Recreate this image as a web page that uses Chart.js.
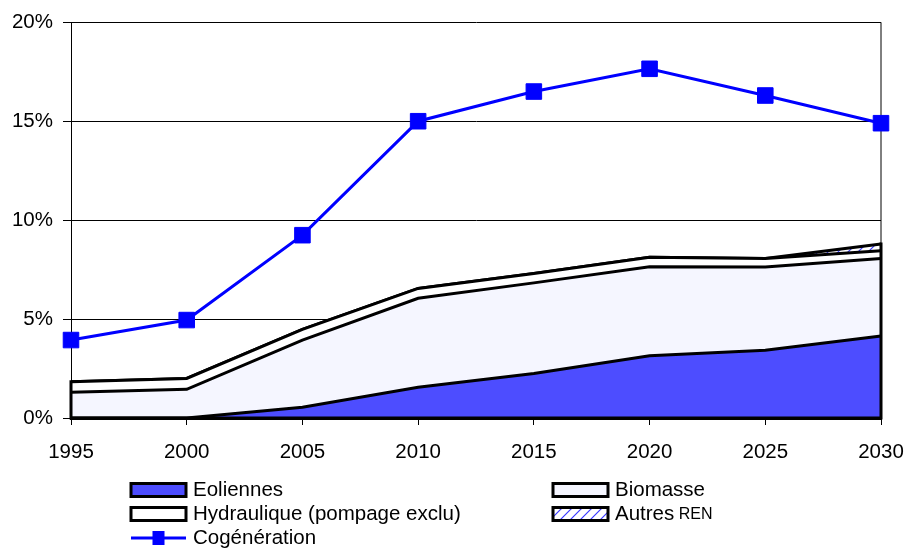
<!DOCTYPE html>
<html>
<head>
<meta charset="utf-8">
<script src="https://cdn.jsdelivr.net/npm/chart.js@4.4.1/dist/chart.umd.min.js"></script>
<style>
  html, body { margin: 0; padding: 0; background: #fff; }
</style>
</head>
<body>
<canvas id="myChart" width="906" height="548"></canvas>
<script>
// Part de la production d'électricité (%)
const years = ['1995', '2000', '2005', '2010', '2015', '2020', '2025', '2030'];
const eoliennes = [0, 0, 0.54, 1.55, 2.25, 3.15, 3.43, 4.14];
const biomasse = [1.3, 1.45, 3.4, 4.5, 4.58, 4.49, 4.2, 3.92];
const hydraulique = [0.53, 0.55, 0.54, 0.5, 0.47, 0.48, 0.43, 0.39];
const autresRen = [0, 0, 0, 0, 0, 0, 0, 0.35];
const cogeneration = [3.94, 4.95, 9.24, 15.0, 16.5, 17.65, 16.3, 14.9];
const yTicks = [0, 5, 10, 15, 20];

const BLUE = 'rgb(77, 77, 255)';
const LAVENDER = 'rgb(245, 246, 255)';
const FONT = '"Liberation Sans", Arial, sans-serif';

Chart.defaults.font.family = FONT;
Chart.defaults.color = '#000';

// white fill with thin blue diagonal stripes
function hatchPattern() {
  const n = 10;
  const c = document.createElement('canvas');
  c.width = n;
  c.height = n;
  const g = c.getContext('2d');
  g.fillStyle = '#fff';
  g.fillRect(0, 0, n, n);
  g.strokeStyle = '#3a3aff';
  g.lineWidth = 1.2;
  g.beginPath();
  g.moveTo(0, n); g.lineTo(n, 0);
  g.moveTo(-1, 1); g.lineTo(1, -1);
  g.moveTo(n - 1, n + 1); g.lineTo(n + 1, n - 1);
  g.stroke();
  return g.createPattern(c, 'repeat');
}

const area = (label, data, bg, fill) => ({
  label,
  data,
  stack: 'ren',
  fill,
  backgroundColor: bg,
  borderColor: '#000',
  borderWidth: 3,
  pointRadius: 0,
  tension: 0
});

// closes the stacked area: bottom edge and vertical sides, plus the right frame
const areaEdges = {
  id: 'areaEdges',
  beforeDatasetsDraw(chart) {
    const { ctx, chartArea: a } = chart;
    ctx.save();
    ctx.strokeStyle = '#000';
    ctx.lineWidth = 1;
    ctx.beginPath();
    ctx.moveTo(a.right, a.top);
    ctx.lineTo(a.right, a.bottom);
    ctx.stroke();
    ctx.restore();
  },
  afterDatasetsDraw(chart) {
    const { ctx, scales: { x, y } } = chart;
    const areas = chart.data.datasets.filter(d => d.fill !== false);
    const top = i => areas.reduce((s, d) => s + d.data[i], 0);
    const last = years.length - 1;
    const y0 = y.getPixelForValue(0);
    ctx.save();
    ctx.strokeStyle = '#000';
    ctx.lineWidth = 3;
    ctx.lineCap = 'square';
    ctx.beginPath();
    ctx.moveTo(x.getPixelForValue(0), y.getPixelForValue(top(0)));
    ctx.lineTo(x.getPixelForValue(0), y0);
    ctx.lineTo(x.getPixelForValue(last), y0);
    ctx.lineTo(x.getPixelForValue(last), y.getPixelForValue(top(last)));
    ctx.stroke();
    ctx.restore();
  }
};

// two-column legend under the plot
const gridLegend = {
  id: 'gridLegend',
  afterDraw(chart) {
    const { ctx } = chart;
    const cols = [131, 553];
    const rows = [490, 514, 538];
    const sw = 55, sh = 13;
    ctx.save();
    chart.data.datasets.forEach((d, i) => {
      const x0 = cols[i % 2];
      const yc = rows[Math.floor(i / 2)];
      if (d.fill !== false) {
        ctx.fillStyle = d.backgroundColor;
        ctx.fillRect(x0, yc - sh / 2, sw, sh);
        ctx.strokeStyle = '#000';
        ctx.lineWidth = 3;
        ctx.strokeRect(x0, yc - sh / 2, sw, sh);
      } else {
        ctx.strokeStyle = d.borderColor;
        ctx.lineWidth = 3;
        ctx.beginPath();
        ctx.moveTo(x0, yc);
        ctx.lineTo(x0 + sw, yc);
        ctx.stroke();
        ctx.fillStyle = d.pointBackgroundColor;
        ctx.fillRect(x0 + sw / 2 - 6, yc - 7, 12, 14);
      }
      // all-caps words are set smaller, like small capitals
      let tx = x0 + sw + 7;
      ctx.fillStyle = '#000';
      ctx.textBaseline = 'middle';
      d.label.split(' ').forEach((w, k) => {
        const caps = w.length > 1 && w === w.toUpperCase() && /[A-Z]/.test(w);
        ctx.font = (caps ? 16 : 20.5) + 'px ' + FONT;
        const word = (k ? ' ' : '') + w;
        ctx.fillText(word, tx, yc + (caps ? 1 : 0));
        tx += ctx.measureText(word).width;
      });
    });
    ctx.restore();
  }
};

const ctx = document.getElementById('myChart');
new Chart(ctx, {
  type: 'line',
  data: {
    labels: years,
    datasets: [
      area('Eoliennes', eoliennes, BLUE, 'origin'),
      area('Biomasse', biomasse, LAVENDER, '-1'),
      area('Hydraulique (pompage exclu)', hydraulique, '#fff', '-1'),
      area('Autres REN', autresRen, hatchPattern(), '-1'),
      {
        label: 'Cogénération',
        data: cogeneration,
        stack: 'cogen',
        order: -1,
        fill: false,
        borderColor: '#0000ff',
        borderWidth: 3,
        pointStyle: 'rect',
        pointRadius: 11,
        pointBackgroundColor: '#0000ff',
        pointBorderColor: '#0000ff',
        pointBorderWidth: 1,
        tension: 0
      }
    ]
  },
  options: {
    responsive: false,
    animation: false,
    layout: { padding: { top: 22, right: 25, bottom: 80, left: 0 } },
    plugins: {
      legend: { display: false },
      tooltip: { enabled: false }
    },
    scales: {
      x: {
        offset: false,
        grid: { drawOnChartArea: false, tickLength: 7, tickColor: '#000' },
        border: { color: '#000', width: 3 },
        ticks: { font: { size: 20.5 }, padding: 15, maxRotation: 0, autoSkip: false },
        afterFit: s => {
          s.height = 50;
          s.paddingLeft = 0;
          s.paddingRight = 0;
        }
      },
      y: {
        stacked: true,
        min: 0,
        max: 20,
        afterBuildTicks: s => { s.ticks = yTicks.map(v => ({ value: v })) },
        ticks: { font: { size: 20.5 }, padding: 10, callback: v => v + '%' },
        grid: { color: '#000', lineWidth: 1, tickLength: 8, tickColor: '#000' },
        border: { color: '#000', width: 1 },
        afterFit: s => { s.width = 71 }
      }
    }
  },
  plugins: [areaEdges, gridLegend]
});
</script>
</body>
</html>
